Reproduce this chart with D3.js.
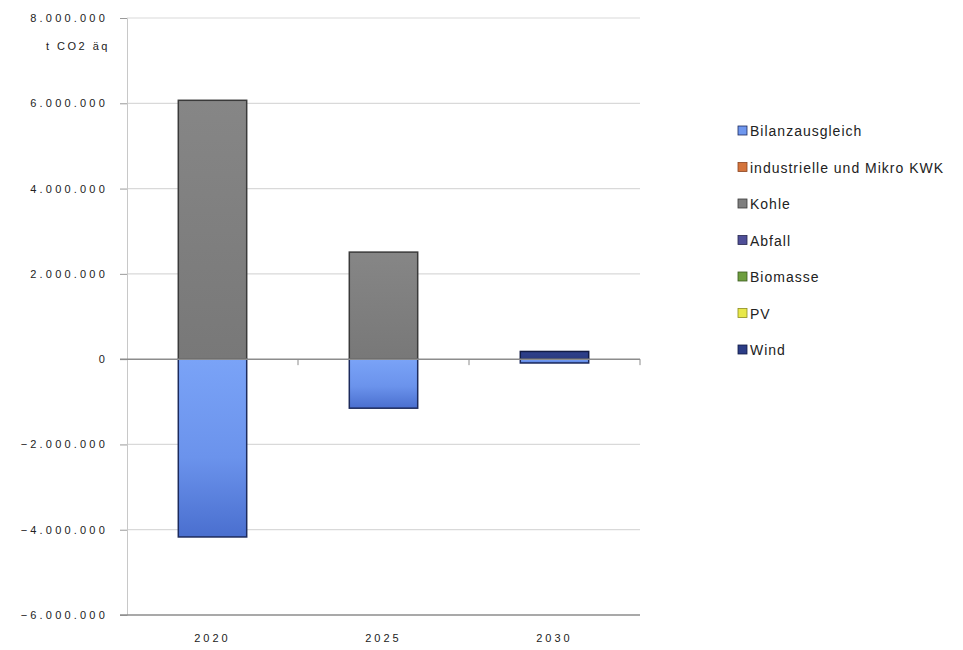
<!DOCTYPE html>
<html>
<head>
<meta charset="utf-8">
<script src="https://cdn.jsdelivr.net/npm/d3@7"></script>
<style>
  html, body { margin: 0; padding: 0; background: #fff; }
  svg { display: block; }
  text { font-family: "Liberation Sans", Arial, sans-serif; fill: #222; }
</style>
</head>
<body>
<svg id="chart" width="963" height="650"></svg>
<script>
// Emissionsbilanz nach Energieträger (t CO2 äq)
const years = ["2020", "2025", "2030"];
const seriesNames = ["Bilanzausgleich", "industrielle und Mikro KWK", "Kohle", "Abfall", "Biomasse", "PV", "Wind"];
const bilanzausgleich = [-4170000, -1150000, -90000];
const kwk = [0, 0, 0];
const kohle = [6070000, 2510000, 0];
const abfall = [0, 0, 0];
const biomasse = [0, 0, 0];
const pv = [0, 0, 0];
const wind = [0, 0, 180000];
const yTicks = [-6000000, -4000000, -2000000, 0, 2000000, 4000000, 6000000, 8000000];
const yTitle = "t CO2 äq";

const colors = ["#6f97ee", "#d4743c", "#7f7f7f", "#4f4f98", "#6e9e3f", "#e8e84a", "#2c3d86"];
const borders = ["#1c2a5c", "#8a4420", "#3a3a3a", "#26264e", "#3b5a1e", "#8c8c20", "#111a44"];

const valuesBySeries = [bilanzausgleich, kwk, kohle, abfall, biomasse, pv, wind];
const rows = years.map((y, i) => {
  const r = { year: y };
  seriesNames.forEach((s, k) => r[s] = valuesBySeries[k][i]);
  return r;
});

const svg = d3.select("#chart");
const plotLeft = 127, plotRight = 640;

const x = d3.scaleBand().domain(years).range([plotLeft, plotRight]).paddingInner(0.6).paddingOuter(0.3);
const xOuter = d3.scaleBand().domain(years).range([plotLeft, plotRight]);
const y = d3.scaleLinear().domain([-6000000, 8000000]).range([615, 18]);

const fmt = v => d3.format(",")(v).replace(/,/g, ".");

// gradients for the bar fills
const defs = svg.append("defs");
colors.forEach((c, k) => {
  const g = defs.append("linearGradient").attr("id", "grad" + k)
    .attr("x1", 0).attr("y1", 0).attr("x2", 0).attr("y2", 1);
  if (k === 0) {
    g.append("stop").attr("offset", "0%").attr("stop-color", "#7aa3f7");
    g.append("stop").attr("offset", "55%").attr("stop-color", "#6b93ec");
    g.append("stop").attr("offset", "100%").attr("stop-color", "#4a6fcf");
  } else {
    g.append("stop").attr("offset", "0%").attr("stop-color", d3.color(c).brighter(0.15));
    g.append("stop").attr("offset", "100%").attr("stop-color", d3.color(c).darker(0.15));
  }
});

// gridlines
svg.append("g").selectAll("line").data(yTicks.filter(t => t !== 0 && t !== -6000000))
  .join("line")
  .attr("x1", plotLeft).attr("x2", plotRight)
  .attr("y1", d => y(d)).attr("y2", d => y(d))
  .attr("stroke", "#d9d9d9").attr("stroke-width", 1.2);

// y axis
const yAxis = svg.append("g").attr("transform", `translate(${plotLeft},0)`)
  .call(d3.axisLeft(y).tickValues(yTicks).tickFormat(fmt).tickSize(7).tickPadding(12));
yAxis.select(".domain").attr("stroke", "#c8c8c8");
yAxis.selectAll(".tick line").attr("stroke", "#9a9a9a");
yAxis.selectAll("text").attr("font-size", 11).attr("letter-spacing", 3.2).attr("fill", "#222");

// bottom boundary line
svg.append("line").attr("x1", plotLeft - 7).attr("x2", plotRight)
  .attr("y1", y(-6000000)).attr("y2", y(-6000000))
  .attr("stroke", "#8c8c8c").attr("stroke-width", 1.5);

// y title
svg.append("text").attr("x", 110).attr("y", 50).attr("text-anchor", "end")
  .attr("font-size", 11).attr("letter-spacing", 2.5).attr("fill", "#222").text(yTitle);

// stacked bars
const stack = d3.stack().keys(seriesNames).offset(d3.stackOffsetDiverging);
const stacked = stack(rows);

const barG = svg.append("g");
stacked.forEach((layer, k) => {
  barG.append("g").selectAll("rect")
    .data(layer.filter(d => d[1] - d[0] !== 0))
    .join("rect")
    .attr("x", d => x(d.data.year))
    .attr("width", x.bandwidth())
    .attr("y", d => y(Math.max(d[0], d[1])))
    .attr("height", d => Math.abs(y(d[0]) - y(d[1])))
    .attr("fill", `url(#grad${k})`)
    .attr("stroke", borders[k]).attr("stroke-width", 1.5);
});

// zero axis with category ticks
svg.append("line").attr("x1", plotLeft - 7).attr("x2", plotRight)
  .attr("y1", y(0)).attr("y2", y(0))
  .attr("stroke", "#8c8c8c").attr("stroke-width", 1.5);
const bounds = years.map(yr => xOuter(yr) + xOuter.bandwidth());
svg.append("g").selectAll("line").data(bounds).join("line")
  .attr("x1", d => d).attr("x2", d => d)
  .attr("y1", y(0)).attr("y2", y(0) + 6)
  .attr("stroke", "#8c8c8c");

// category labels at bottom
svg.append("g").selectAll("text").data(years).join("text")
  .attr("x", d => xOuter(d) + xOuter.bandwidth() / 2)
  .attr("y", 642).attr("text-anchor", "middle")
  .attr("font-size", 11).attr("letter-spacing", 3).attr("fill", "#222")
  .text(d => d);

// legend
const leg = svg.append("g").attr("transform", "translate(738,132)");
const items = leg.selectAll("g").data(seriesNames).join("g")
  .attr("transform", (d, i) => `translate(0,${i * 36.5})`);
items.append("rect").attr("x", 0).attr("y", -6).attr("width", 9).attr("height", 9)
  .attr("fill", (d, i) => colors[i]).attr("stroke", (d, i) => borders[i]).attr("stroke-width", 0.8);
items.append("text").attr("x", 12).attr("y", 4)
  .attr("font-size", 14).attr("letter-spacing", 1.0).attr("fill", "#222")
  .text(d => d);
</script>
</body>
</html>
